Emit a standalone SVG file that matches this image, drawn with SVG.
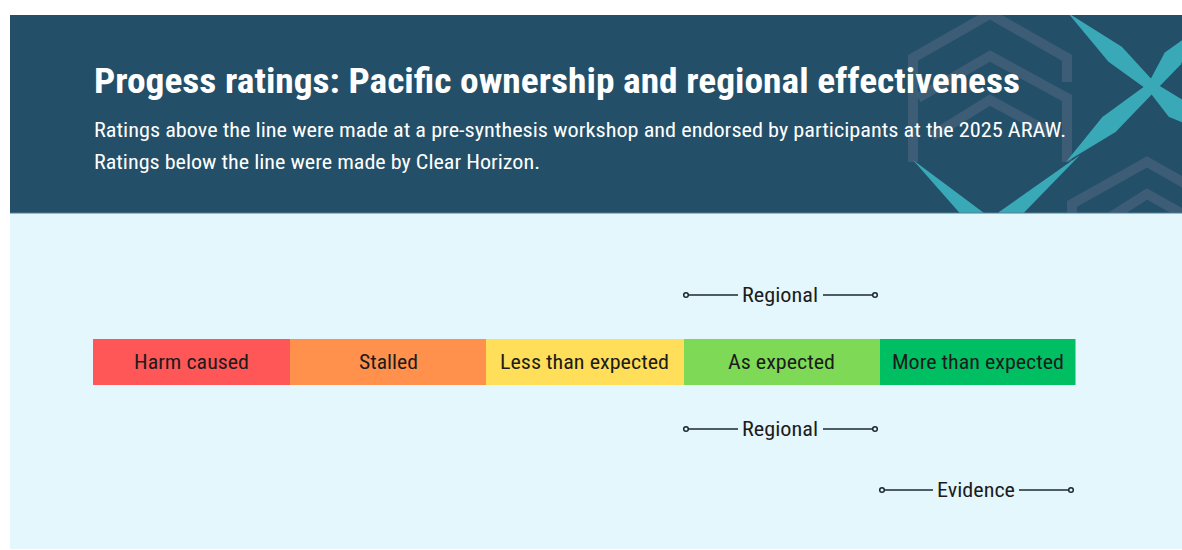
<svg xmlns="http://www.w3.org/2000/svg" width="1182" height="550" viewBox="0 0 1182 550">
  <style>
    .title { font-family: "Roboto", "Liberation Sans", sans-serif; font-stretch: condensed; font-weight: 700; font-size: 35px; fill: #ffffff; }
    .sub { font-family: "Roboto", "Liberation Sans", sans-serif; font-stretch: condensed; font-size: 20px; fill: #ffffff; }
    .lbl { font-family: "Roboto", "Liberation Sans", sans-serif; font-stretch: condensed; font-size: 20px; fill: #1c1c1c; text-anchor: middle; }
    .rng { font-family: "Roboto", "Liberation Sans", sans-serif; font-stretch: condensed; font-size: 20px; fill: #1c1c1c; }
    .chev { fill: none; stroke: #43607a; stroke-width: 10; stroke-linejoin: miter; opacity: 0.8; }
    .blade { fill: #3aa9b7; }
    .line { stroke: #1c2830; stroke-width: 1.6; fill: none; }
    .dot { fill: #e3f7fc; stroke: #1c2830; stroke-width: 1.5; }
  </style>
  <defs>
    <clipPath id="hdrClip">
      <rect x="10" y="15" width="1172" height="198"/>
    </clipPath>
  </defs>

  <!-- page background -->
  <rect x="0" y="0" width="1182" height="550" fill="#ffffff"/>
  <rect x="10" y="213" width="1172" height="336" fill="#e3f7fc"/>

  <!-- header band -->
  <g id="header">
    <rect x="10" y="15" width="1172" height="198" fill="#244f68"/>
    <g clip-path="url(#hdrClip)">
      <!-- stacked chevrons -->
      <path class="chev" d="M913,162 V58 L990,14 L1067,58 V82"/>
      <path class="chev" d="M918,98 L990,56 L1067,98 V162"/>
      <path class="chev" d="M932,136 L990,100 L1050,133"/>
      <path class="chev" d="M1072,230 V204 L1147,162 L1200,192"/>
      <path class="chev" d="M1090,230 L1147,194 L1200,224"/>
      <!-- teal cross: four tapered arms meeting at one point -->
      <polygon class="blade" points="1068,13 1121.8,46.7 1155.3,83.3 1148.7,90.7 1108.5,61.7"/>
      <polygon class="blade" points="1148.7,90.7 1155.3,83.3 1183.3,100.3 1200,130 1168.7,116.7"/>
      <polygon class="blade" points="1156,90 1181,64.3 1192,33 1164.8,52.5 1148,84"/>
      <polygon class="blade" points="1155.3,90.8 1115.6,132 1066,162 1102.4,117 1148.7,83.2"/>
      <!-- teal V along the lower edge -->
      <polygon class="blade" points="1080,155 1011,226 980,252 999,212"/>
      <polygon class="blade" points="913,160 984,213 1000,252 972,227"/>
    </g>
    <line x1="10" y1="213" x2="1182" y2="213" stroke="#4f7d94" stroke-width="1"/>
    <text class="title" x="94" y="93" textLength="926" lengthAdjust="spacingAndGlyphs">Progess ratings: Pacific ownership and regional effectiveness</text>
    <text class="sub" x="94" y="137" textLength="972" lengthAdjust="spacingAndGlyphs">Ratings above the line were made at a pre-synthesis workshop and endorsed by participants at the 2025 ARAW.</text>
    <text class="sub" x="94" y="169" textLength="446" lengthAdjust="spacingAndGlyphs">Ratings below the line were made by Clear Horizon.</text>
  </g>

  <!-- rating scale -->
  <g id="harm">
    <rect x="93" y="339" width="197.5" height="46" fill="#ff5757"/>
    <text class="lbl" x="191.5" y="369" textLength="115" lengthAdjust="spacingAndGlyphs">Harm caused</text>
  </g>
  <g id="stalled">
    <rect x="290" y="339" width="196.5" height="46" fill="#ff914d"/>
    <text class="lbl" x="388.5" y="369" textLength="59" lengthAdjust="spacingAndGlyphs">Stalled</text>
  </g>
  <g id="less">
    <rect x="486" y="339" width="198" height="46" fill="#ffde59"/>
    <text class="lbl" x="584.5" y="369" textLength="169" lengthAdjust="spacingAndGlyphs">Less than expected</text>
  </g>
  <g id="as">
    <rect x="684" y="339" width="196.5" height="46" fill="#7ed957"/>
    <text class="lbl" x="781.5" y="369" textLength="107" lengthAdjust="spacingAndGlyphs">As expected</text>
  </g>
  <g id="more">
    <rect x="880" y="339" width="195.5" height="46" fill="#00bf63"/>
    <text class="lbl" x="978" y="369" textLength="172" lengthAdjust="spacingAndGlyphs">More than expected</text>
  </g>

  <!-- range brackets -->
  <g id="connectors">
    <line class="line" x1="686" y1="295" x2="738" y2="295"/>
    <line class="line" x1="823" y1="295" x2="875" y2="295"/>
    <circle class="dot" cx="686" cy="295" r="2.3"/>
    <circle class="dot" cx="875" cy="295" r="2.3"/>

    <line class="line" x1="686" y1="429" x2="738" y2="429"/>
    <line class="line" x1="823" y1="429" x2="875" y2="429"/>
    <circle class="dot" cx="686" cy="429" r="2.3"/>
    <circle class="dot" cx="875" cy="429" r="2.3"/>

    <line class="line" x1="882" y1="490" x2="933" y2="490"/>
    <line class="line" x1="1019" y1="490" x2="1071" y2="490"/>
    <circle class="dot" cx="882" cy="490" r="2.3"/>
    <circle class="dot" cx="1071" cy="490" r="2.3"/>
  </g>
  <g id="range-regional-above">
    <text class="rng" x="742" y="302" textLength="76" lengthAdjust="spacingAndGlyphs">Regional</text>
  </g>
  <g id="range-regional-below">
    <text class="rng" x="742" y="436" textLength="76" lengthAdjust="spacingAndGlyphs">Regional</text>
  </g>
  <g id="range-evidence">
    <text class="rng" x="937" y="497" textLength="78" lengthAdjust="spacingAndGlyphs">Evidence</text>
  </g>
</svg>
